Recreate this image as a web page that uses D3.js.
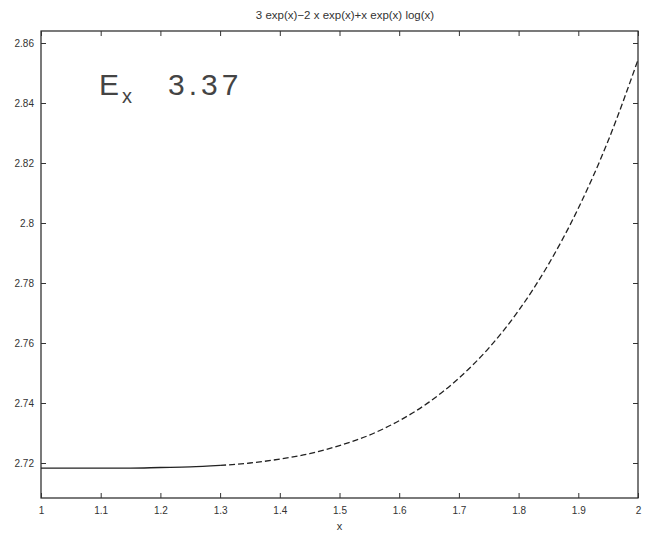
<!DOCTYPE html>
<html>
<head>
<meta charset="utf-8">
<script src="https://cdn.jsdelivr.net/npm/d3@7"></script>
<style>
  body { margin: 0; background: #fff; }
  text { font-family: "Liberation Sans", Arial, sans-serif; fill: #333; }
</style>
</head>
<body>
<script>
// curve samples
const xs = [1.0, 1.05, 1.1, 1.15, 1.2, 1.25, 1.3, 1.35, 1.4, 1.45, 1.5,
  1.55, 1.6, 1.65, 1.7, 1.75, 1.8, 1.85, 1.9, 1.95, 2.0];
const ys = [2.7183, 2.7183, 2.7183, 2.7183, 2.7185, 2.7187, 2.7192, 2.7200,
  2.7213, 2.7231, 2.7258, 2.7293, 2.7341, 2.7403, 2.7483, 2.7583, 2.7708,
  2.7862, 2.8049, 2.8274, 2.8544];
const xTicks = [1, 1.1, 1.2, 1.3, 1.4, 1.5, 1.6, 1.7, 1.8, 1.9, 2];
const yTicks = [2.72, 2.74, 2.76, 2.78, 2.8, 2.82, 2.84, 2.86];
const title = "3 exp(x)\u22122 x exp(x)+x exp(x) log(x)";
const note = ["E", "x", "3.37"];

const width = 645, height = 539;
const box = { left: 41, right: 638, top: 31, bottom: 498 };

const x = d3.scaleLinear().domain([1, 2]).range([box.left, box.right]);
const y = d3.scaleLinear().domain([2.72, 2.86]).range([463, 43]);

const data = xs.map((v, i) => ({ x: v, y: ys[i] }));

const svg = d3
  .select("body")
  .append("svg")
  .attr("width", width)
  .attr("height", height);

svg
  .append("rect")
  .attr("x", box.left)
  .attr("y", box.top)
  .attr("width", box.right - box.left)
  .attr("height", box.bottom - box.top)
  .attr("fill", "none")
  .attr("stroke", "#222")
  .attr("stroke-width", 1.2);

// inward ticks on all four sides, labels only bottom/left
const fmt = (d) => String(+d.toFixed(2));

svg
  .append("g")
  .attr("transform", `translate(0,${box.bottom})`)
  .call(d3.axisBottom(x).tickValues(xTicks).tickSizeInner(-5).tickSizeOuter(0).tickPadding(9).tickFormat(fmt))
  .call((g) => g.select(".domain").remove());

svg
  .append("g")
  .attr("transform", `translate(0,${box.top})`)
  .call(d3.axisTop(x).tickValues(xTicks).tickSizeInner(-5).tickSizeOuter(0).tickFormat(""))
  .call((g) => g.select(".domain").remove());

svg
  .append("g")
  .attr("transform", `translate(${box.left},0)`)
  .call(d3.axisLeft(y).tickValues(yTicks).tickSizeInner(-5).tickSizeOuter(0).tickPadding(7).tickFormat(fmt))
  .call((g) => g.select(".domain").remove());

svg
  .append("g")
  .attr("transform", `translate(${box.right},0)`)
  .call(d3.axisRight(y).tickValues(yTicks).tickSizeInner(-5).tickSizeOuter(0).tickFormat(""))
  .call((g) => g.select(".domain").remove());

svg.selectAll(".tick line").attr("stroke", "#333");
svg
  .selectAll(".tick text")
  .attr("font-size", 10)
  .attr("font-family", "Liberation Sans, Arial, sans-serif")
  .attr("fill", "#333");

const line = d3
  .line()
  .x((d) => x(d.x))
  .y((d) => y(d.y))
  .curve(d3.curveMonotoneX);

// flat start looks solid, the rest comes out broken in the scan
svg
  .append("path")
  .datum(data.filter((d) => d.x <= 1.3))
  .attr("fill", "none")
  .attr("stroke", "#222")
  .attr("stroke-width", 1.3)
  .attr("d", line);

svg
  .append("path")
  .datum(data.filter((d) => d.x >= 1.3))
  .attr("fill", "none")
  .attr("stroke", "#222")
  .attr("stroke-width", 1.3)
  .attr("stroke-dasharray", "6,3")
  .attr("d", line);

svg
  .append("text")
  .attr("x", 345)
  .attr("y", 19)
  .attr("text-anchor", "middle")
  .attr("font-size", 11.5)
  .text(title);

svg
  .append("text")
  .attr("x", x(1.5))
  .attr("y", 530)
  .attr("text-anchor", "middle")
  .attr("font-size", 11)
  .text("x");

// handwritten mark in the corner
const hand = svg
  .append("text")
  .attr("x", 99)
  .attr("y", 95)
  .attr("font-family", "DejaVu Sans, sans-serif")
  .attr("font-size", 30)
  .attr("font-weight", 200)
  .style("fill", "#444");
hand.append("tspan").text(note[0]);
hand.append("tspan").attr("dx", 3).attr("dy", 8).attr("font-size", 20).text(note[1]);
hand.append("tspan").attr("dx", 36).attr("dy", -8).attr("letter-spacing", 4).text(note[2]);
</script>
</body>
</html>
